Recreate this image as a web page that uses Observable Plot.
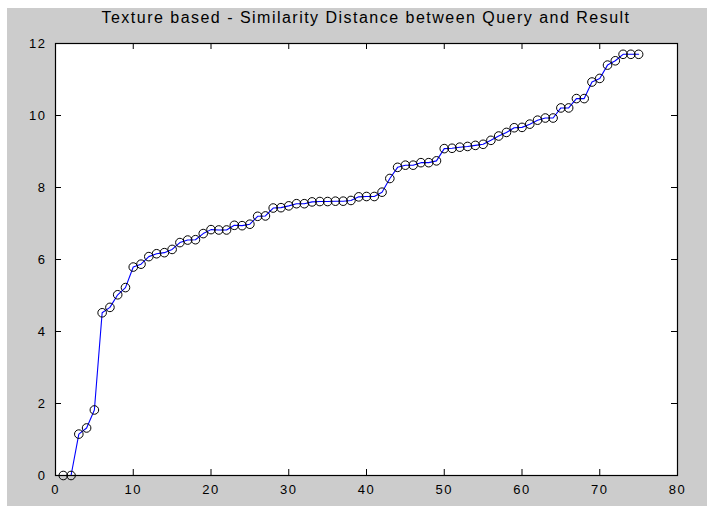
<!DOCTYPE html>
<html>
<head>
<meta charset="utf-8">
<script src="https://cdn.jsdelivr.net/npm/d3@7"></script>
<script src="https://cdn.jsdelivr.net/npm/@observablehq/plot@0.6"></script>
<style>
  html, body { margin: 0; padding: 0; background: #ffffff; }
  #fig { position: absolute; left: 7px; top: 8px; width: 700px; height: 498px; background: #cccccc; overflow: hidden; }
  #title { position: absolute; left: 48px; width: 622px; top: 2px; height: 23px; text-align: center;
           font-family: "Liberation Sans", Arial, Helvetica, sans-serif; font-size: 16px; line-height: 16px; color: #000; white-space: nowrap; }
  #chart { position: absolute; left: 0; top: 25px; }
  #chart svg { overflow: visible; }
</style>
</head>
<body>
<div id="fig">
  <div id="title"><span id="titleText">Texture based - Similarity Distance between Query and Result</span></div>
  <div id="chart"></div>
</div>
<script>
// Similarity distance for each ranked result (rank 1..75)
const distances = [
  0, 0, 1.15, 1.32, 1.82, 4.52, 4.67, 5.02, 5.22, 5.79,
  5.87, 6.08, 6.16, 6.19, 6.28, 6.47, 6.54, 6.55, 6.72, 6.83,
  6.82, 6.82, 6.95, 6.94, 6.98, 7.20, 7.21, 7.43, 7.44, 7.49,
  7.55, 7.55, 7.60, 7.61, 7.61, 7.62, 7.62, 7.64, 7.74, 7.75,
  7.75, 7.87, 8.25, 8.56, 8.62, 8.62, 8.69, 8.69, 8.74, 9.08,
  9.09, 9.12, 9.14, 9.17, 9.20, 9.31, 9.43, 9.53, 9.66, 9.67,
  9.76, 9.87, 9.93, 9.93, 10.21, 10.21, 10.47, 10.47, 10.93, 11.03,
  11.40, 11.52, 11.70, 11.70, 11.70
];
const xTicks = [0, 10, 20, 30, 40, 50, 60, 70, 80];
const yTicks = [0, 2, 4, 6, 8, 10, 12];
const xDomain = [0, 80];
const yDomain = [0, 12];

const data = distances.map((d, i) => ({rank: i + 1, dist: d}));

const W = 700, H = 473;
const mL = 48, mR = 30, mT = 10, mB = 31;
const frameH = H - mT - mB, frameW = W - mL - mR;
const tick = 6;

const chart = Plot.plot({
  width: W,
  height: H,
  marginLeft: mL, marginRight: mR, marginTop: mT, marginBottom: mB,
  style: {background: "transparent", fontFamily: "'Liberation Sans', Arial, Helvetica, sans-serif", fontSize: "13px", color: "#000", overflow: "visible"},
  x: {domain: xDomain, ticks: xTicks, label: null},
  y: {domain: yDomain, ticks: yTicks, label: null},
  marks: [
    Plot.frame({fill: "white", stroke: "none"}),
    Plot.ruleX(xTicks, {x: d => d, insetTop: frameH - tick, stroke: "black", strokeWidth: 1}),
    Plot.ruleX(xTicks, {x: d => d, insetBottom: frameH - tick, stroke: "black", strokeWidth: 1}),
    Plot.ruleY(yTicks, {y: d => d, insetRight: frameW - tick, stroke: "black", strokeWidth: 1}),
    Plot.ruleY(yTicks, {y: d => d, insetLeft: frameW - tick, stroke: "black", strokeWidth: 1}),
    Plot.line(data, {x: "rank", y: "dist", stroke: "#0000ff", strokeWidth: 1.1}),
    Plot.dot(data, {x: "rank", y: "dist", r: 4.3, stroke: "black", strokeWidth: 1, fill: "none"}),
    Plot.frame({stroke: "black", strokeWidth: 1.2}),
    Plot.axisX(xTicks, {tickSize: 0, tickPadding: 9, label: null, fontSize: 13}),
    Plot.axisY(yTicks, {tickSize: 0, tickPadding: 9, label: null, fontSize: 13})
  ]
});
chart.querySelectorAll("g[aria-label='x-axis tick label'] text, g[aria-label='y-axis tick label'] text").forEach(t => t.setAttribute("letter-spacing", "1.5"));
document.getElementById("chart").appendChild(chart);

// stretch title to the width seen in the reference
const span = document.getElementById("titleText");
const w = span.getBoundingClientRect().width;
const target = 529;
const n = span.textContent.length;
span.style.letterSpacing = ((target - w) / n) + "px";
</script>
</body>
</html>
